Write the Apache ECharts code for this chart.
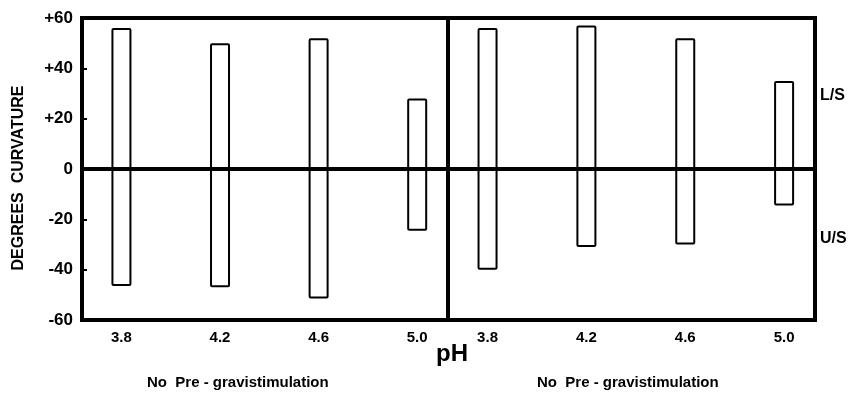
<!DOCTYPE html>
<html>
<head>
<meta charset="utf-8">
<script src="https://cdn.jsdelivr.net/npm/echarts@6/dist/echarts.min.js"></script>
<style>
html,body{margin:0;padding:0;background:#fff;}
#chart{width:853px;height:394px;}
</style>
</head>
<body>
<div id="chart"></div>
<script>
// pH categories (shared by both panels)
const phLevels = [3.8, 4.2, 4.6, 5.0];
// Left panel: degrees curvature
const leftLS = [56, 50, 52, 28];        // L/S (positive)
const leftUS = [-46.5, -47, -51.5, -24.5]; // U/S (negative)
// Right panel
const rightLS = [56, 57, 52, 35];
const rightUS = [-40, -31, -30, -14.5];
// Y tick values
const yTicks = [-60, -40, -20, 0, 20, 40, 60];
// Texts
const yTitle = 'DEGREES  CURVATURE';
const xTitle = 'pH';
const panelLabel = 'No  Pre - gravistimulation';
const sideLabels = ['L/S', 'U/S'];

const FONT = '"Liberation Sans", Arial, sans-serif';
const chart = echarts.init(document.getElementById('chart'), null, {renderer: 'canvas'});

function pairs(vals) { return phLevels.map((p, i) => [p, vals[i]]); }

function xAxisFor(gi) {
  return {
    type: 'value', gridIndex: gi, min: 3.64, max: 5.125,
    axisLine: {show: false},
    splitLine: {show: false},
    axisTick: {show: true, inside: true, length: 5, lineStyle: {color: '#000', width: 2}, customValues: phLevels},
    axisLabel: {show: true, customValues: phLevels, formatter: v => v.toFixed(1), color: '#000',
      fontFamily: FONT, fontWeight: 'bold', fontSize: 15, margin: 10}
  };
}
function yAxisFor(gi, showLabels) {
  return {
    type: 'value', gridIndex: gi, min: yTicks[0], max: yTicks[yTicks.length - 1], interval: 20,
    axisLine: {show: false},
    splitLine: {show: false},
    axisTick: {show: showLabels, inside: true, length: 5, lineStyle: {color: '#000', width: 2}},
    axisLabel: {show: showLabels, color: '#000', fontFamily: FONT, fontWeight: 'bold', fontSize: 17, margin: 9,
      formatter: v => v > 0 ? '+' + v : String(v)}
  };
}
const barStyle = {color: '#fff', borderColor: '#000', borderWidth: 2, borderRadius: 1};
const zeroLine = {
  silent: true, symbol: 'none', label: {show: false},
  lineStyle: {color: '#000', width: 4, type: 'solid'},
  data: [{yAxis: 0}]
};
function barSeries(gi, vals, stack, withZero) {
  const s = {
    type: 'bar', xAxisIndex: gi, yAxisIndex: gi, stack: stack, barWidth: 20,
    data: pairs(vals), itemStyle: barStyle, silent: true, animation: false
  };
  if (withZero) s.markLine = zeroLine;
  return s;
}

const option = {
  backgroundColor: '#fff',
  animation: false,
  grid: [
    {left: 82, top: 18, width: 366, height: 302, show: true, borderColor: '#000', borderWidth: 4, backgroundColor: 'transparent'},
    {left: 448, top: 18, width: 367, height: 302, show: true, borderColor: '#000', borderWidth: 4, backgroundColor: 'transparent'}
  ],
  xAxis: [xAxisFor(0), xAxisFor(1)],
  yAxis: [yAxisFor(0, true), yAxisFor(1, false)],
  series: [
    barSeries(0, leftLS, 'L', true),
    barSeries(0, leftUS, 'L', false),
    barSeries(1, rightLS, 'R', true),
    barSeries(1, rightUS, 'R', false)
  ],
  graphic: [
    {type: 'text', x: 19, y: 178, rotation: Math.PI / 2,
      style: {text: yTitle, fill: '#000', font: 'bold 16px ' + FONT, align: 'center', verticalAlign: 'middle'}},
    {type: 'text', left: 820, top: 88, style: {text: sideLabels[0], fill: '#000', font: 'bold 16px ' + FONT}},
    {type: 'text', left: 820, top: 231, style: {text: sideLabels[1], fill: '#000', font: 'bold 16px ' + FONT}},
    {type: 'text', left: 436, top: 342, style: {text: xTitle, fill: '#000', font: 'bold 24px ' + FONT}},
    {type: 'text', left: 147, top: 375, style: {text: panelLabel, fill: '#000', font: 'bold 15px ' + FONT}},
    {type: 'text', left: 537, top: 375, style: {text: panelLabel, fill: '#000', font: 'bold 15px ' + FONT}}
  ]
};
chart.setOption(option);
</script>
</body>
</html>
